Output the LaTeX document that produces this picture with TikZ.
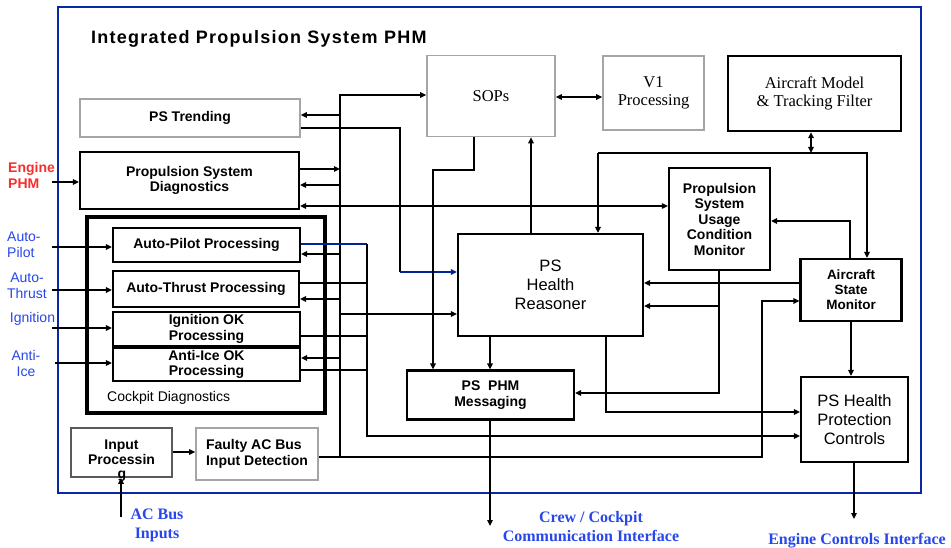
\documentclass[tikz,border=0pt]{standalone}
\usepackage{fontspec}
\setmainfont{Liberation Sans}
\newfontfamily\serifface{Liberation Serif}
\newfontfamily\titleface[LetterSpace=7]{Liberation Sans}
\usetikzlibrary{arrows.meta}
\definecolor{framebl}{RGB}{10,40,165}
\definecolor{navy}{RGB}{0,35,150}
\definecolor{lblbl}{RGB}{40,70,235}
\definecolor{lblred}{RGB}{250,45,45}
\definecolor{boxgray}{RGB}{165,165,165}
\definecolor{boxdark}{RGB}{90,90,90}

\begin{document}
\begin{tikzpicture}[x=1pt, y=-1pt,
  box/.style={rectangle, draw, line width=2.2pt, inner sep=0pt, align=center,
    font=\fontsize{14}{15.5}\selectfont\bfseries},
  gbox/.style={box, draw=boxgray, line width=1.6pt},
  plain/.style={font=\fontsize{16.5}{19}\selectfont},
  serif/.style={font=\serifface\fontsize{16.5}{18.5}\selectfont},
  wire/.style={line width=2.2pt},
  thinwire/.style={line width=1.1pt},
  arr/.style={wire, -{Triangle[length=6pt,width=5.5pt]}},
  thinarr/.style={thinwire, -{Triangle[length=6pt,width=5.5pt]}},
  darr/.style={wire, {Triangle[length=6pt,width=5.5pt]}-{Triangle[length=6pt,width=5.5pt]}},
  inlbl/.style={text=lblbl, inner sep=0pt, align=center, font=\fontsize{14}{16}\selectfont},
  outlbl/.style={text=lblbl, inner sep=0pt, align=center, font=\serifface\fontsize{16}{19}\selectfont\bfseries}]
\useasboundingbox[fill=white] (0,0) rectangle (951,548);

% frame and title
\node [rectangle, draw=framebl, line width=2.2pt, minimum width=863pt, minimum height=486pt] (frame) at (489.5,250) {};
\node [anchor=base west, inner sep=0pt, font=\titleface\fontsize{18}{20}\selectfont\bfseries] (title) at (91,44) {Integrated Propulsion System PHM};

% left column
\node [gbox, minimum width=220pt, minimum height=38pt] (trend) at (190,118) {PS Trending};
\node [box, minimum width=219pt, minimum height=57pt] (diag) at (189.5,180.5) {Propulsion System\\Diagnostics};
\node [rectangle, draw, line width=3.6pt, minimum width=238pt, minimum height=196pt] (cock) at (206,315) {};
\node [anchor=west, inner sep=0pt, font=\fontsize{14}{16}\selectfont] (cocklbl) at (107,398) {Cockpit Diagnostics};
\node [box, minimum width=187pt, minimum height=34pt] (ap) at (206.5,245) {Auto-Pilot Processing};
\node [box, minimum width=186pt, minimum height=36pt] (at) at (206,289) {Auto-Thrust Processing};
\node [box, minimum width=187pt, minimum height=34pt] (ign) at (206.5,329) {Ignition OK\\Processing};
\node [box, minimum width=187pt, minimum height=33pt] (ice) at (206.5,364.5) {Anti-Ice OK\\Processing};
\node [box, draw=boxdark, line width=1.8pt, minimum width=101pt, minimum height=49pt] (inp) at (121.5,452.5) {Input\\Processin};
\node [inner sep=0pt, font=\fontsize{14}{16}\selectfont\bfseries] (inpg) at (122,476) {g};
\node [gbox, align=left, minimum width=122pt, minimum height=52pt] (fault) at (257,454) {Faulty AC Bus\\Input Detection};

% top row
\node [gbox, serif, minimum width=128pt, minimum height=81pt] (sops) at (491,96) {SOPs};
\node [gbox, serif, minimum width=101pt, minimum height=74pt] (v1) at (653.5,93) {V1\\Processing};
\node [box, serif, line width=2.4pt, minimum width=173pt, minimum height=75pt] (model) at (814.5,93.5) {Aircraft Model\\\& Tracking Filter};

% reasoning blocks
\node [box, minimum width=101pt, minimum height=102pt] (ucm) at (719.5,219) {Propulsion\\System\\Usage\\Condition\\Monitor};
\node [box, plain, minimum width=185pt, minimum height=102pt] (hr) at (550.5,285) {PS\\Health\\Reasoner};
\node [box, font=\fontsize{13.5}{15}\selectfont\bfseries, minimum width=101pt, minimum height=62pt] (asm) at (851,290) {Aircraft\\State\\Monitor};
\node [box, minimum width=167pt, minimum height=49pt] (msg) at (490.5,395) {PS~~PHM\\Messaging};
\node [box, plain, minimum width=107pt, minimum height=85pt] (hpc) at (854.5,419.5) {PS Health\\Protection\\Controls};

% outside labels
\node [anchor=west, inner sep=0pt, align=left, text=lblred, font=\fontsize{14}{16}\selectfont\bfseries] (ephmlbl) at (8,175) {Engine\\PHM};
\node [inlbl, anchor=west, align=left] (aplbl) at (7,245) {Auto-\\Pilot};
\node [inlbl] (atlbl) at (27,285.5) {Auto-\\Thrust};
\node [inlbl] (ignlbl) at (32.5,319) {Ignition};
\node [inlbl] (icelbl) at (26,363) {Anti-\\Ice};
\node [outlbl] (aclbl) at (157,525.5) {AC Bus\\Inputs};
\node [outlbl] (crewlbl) at (591,526.5) {Crew / Cockpit\\Communication Interface};
\node [outlbl] (englbl) at (857,541) {Engine Controls Interface};

% junction points
\coordinate (bus) at (340,0);
\coordinate (col) at (367,0);
\coordinate (bustop) at (340,95);
\coordinate (busbot) at (340,457);
\coordinate (trj) at (400,272);
\coordinate (mj) at (811,153);
\coordinate (crew) at (490,526);
\coordinate (eng) at (854,519);
\coordinate (acin) at (121,517);
\coordinate (ephm) at (52,182);
\coordinate (apin) at (52,247);
\coordinate (atin) at (52,290);
\coordinate (ignin) at (52,328);
\coordinate (icein) at (55,363);

% inputs
\draw[arr] (ephm) -- (diag.west |- ephm);
\draw[arr] (apin) -- (ap.west |- apin);
\draw[arr] (atin) -- (at.west |- atin);
\draw[arr] (ignin) -- (ign.west |- ignin);
\draw[arr] (icein) -- (ice.west |- icein);
\draw[arr] (acin) -- (inp.south -| acin);
\draw[arr] (inp.east |- 0,452) -- (fault.west |- 0,452);

% bus
\draw[wire] (fault.east |- busbot) -- (busbot);
\draw[arr] (busbot) -- (bustop) -- (sops.west |- bustop);
\draw[arr] (bus |- 0,115) -- (trend.east |- 0,115);
\draw[arr] (diag.east |- 0,169) -- (bus |- 0,169);
\draw[arr] (bus |- 0,185) -- (diag.east |- 0,185);
\draw[arr] (bus |- 0,254) -- (ap.east |- 0,254);
\draw[arr] (bus |- 0,299) -- (at.east |- 0,299);
\draw[arr] (bus |- 0,358) -- (ice.east |- 0,358);
\draw[arr] (bus |- 0,314) -- (hr.west |- 0,314);
\draw[arr] (busbot) -- (762,457) -- (762,301) -- (asm.west |- 0,301);

% trending and diagnostics links
\draw[thinwire] (trend.east |- 0,128) -- (400,128) -- (trj);
\draw[arr, navy] (trj) -- (hr.west |- trj);
\draw[arr] (363,206) -- (diag.east |- 0,206);
\draw[thinarr] (363,206) -- (ucm.west |- 0,206);

% cockpit outputs
\draw[wire, navy] (ap.east |- 0,244) -- (col |- 0,244);
\draw[arr] (col |- 0,244) -- (col |- 0,436) -- (hpc.west |- 0,436);
\draw[wire] (at.east |- 0,283) -- (col |- 0,283);
\draw[wire] (ign.east |- 0,336) -- (col |- 0,336);
\draw[wire] (ice.east |- 0,370) -- (col |- 0,370);

% SOPs
\draw[darr] (sops.east |- 0,97) -- (v1.west |- 0,97);
\draw[arr] (sops.south -| 474,0) -- (474,170) -- (433,170) -- (msg.north -| 433,0);
\draw[arr] (hr.north -| 531,0) -- (sops.south -| 531,0);

% aircraft model and state monitor
\draw[darr] (model.south -| mj) -- (mj);
\draw[arr] (598,153) -- (hr.north -| 598,0);
\draw[arr] (598,153) -- (867,153) -- (asm.north -| 867,0);
\draw[arr] (asm.north -| 850,0) -- (850,221) -- (ucm.east |- 0,221);
\draw[arr] (asm.west |- 0,283) -- (hr.east |- 0,283);
\draw[arr] (asm.south -| 851,0) -- (hpc.north -| 851,0);

% usage monitor and reasoner
\draw[arr] (ucm.south -| 719,0) -- (719,393) -- (msg.east |- 0,393);
\draw[arr] (719,306) -- (hr.east |- 0,306);
\draw[arr] (hr.south -| 490,0) -- (msg.north -| 490,0);
\draw[arr] (hr.south -| 606,0) -- (606,412) -- (hpc.west |- 0,412);

% outputs
\draw[arr] (msg.south -| crew) -- (crew);
\draw[arr] (hpc.south -| eng) -- (eng);
\end{tikzpicture}
\end{document}
